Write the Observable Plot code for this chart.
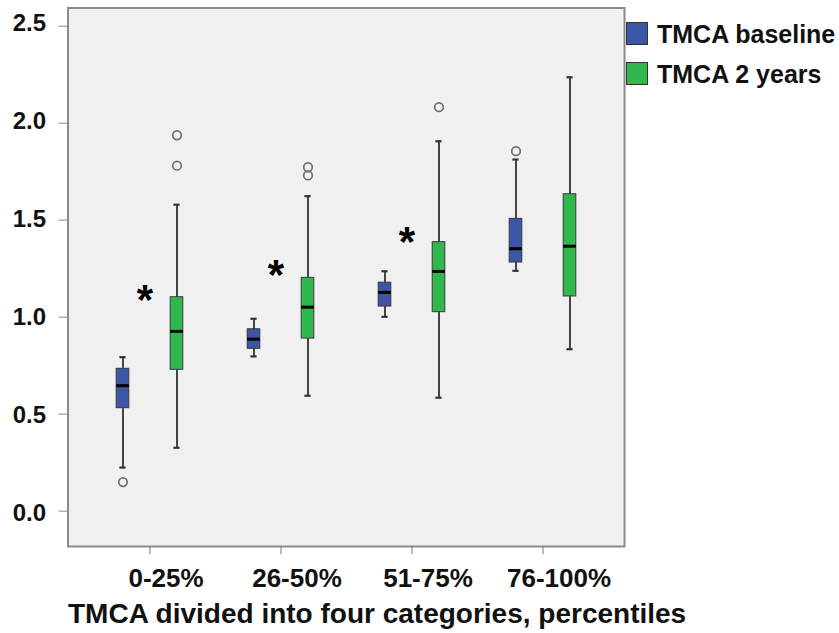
<!DOCTYPE html>
<html>
<head>
<meta charset="utf-8">
<script src="https://cdn.jsdelivr.net/npm/d3@7"></script>
<script src="https://cdn.jsdelivr.net/npm/@observablehq/plot@0.6"></script>
<style>
  html, body { margin: 0; padding: 0; background: #fff; }
  body { width: 839px; height: 633px; position: relative; overflow: hidden;
         font-family: "Liberation Sans", Arial, sans-serif; color: #111; }
  #chart svg { display: block; }
  #chart svg text { font-weight: bold; }
  .legend { position: absolute; left: 626px; top: 22px; }
  .legend .row { position: relative; height: 40px; }
  .legend .sw { position: absolute; left: 0; top: 0; width: 20px; height: 21px; border: 1px solid #333; }
  .legend .lab { position: absolute; left: 31px; top: -1px; font-size: 25px; font-weight: bold; line-height: 26px; white-space: nowrap; }
  .title { position: absolute; left: 68px; top: 601px; font-size: 28px; font-weight: bold; line-height: 26px; white-space: nowrap; }
</style>
</head>
<body>
<div id="chart"></div>
<div class="legend" id="legend"></div>
<div class="title" id="title"></div>
<script>
// ---- data ----
const categories = ["0-25%", "26-50%", "51-75%", "76-100%"];
const seriesNames = ["TMCA baseline", "TMCA 2 years"];
const seriesColors = ["#3c55a6", "#2fb84b"];

const baseLow    = [0.266, 0.839, 1.043, 1.280];
const baseQ1     = [0.572, 0.878, 1.096, 1.323];
const baseMedian = [0.688, 0.928, 1.169, 1.394];
const baseQ3     = [0.775, 0.979, 1.219, 1.548];
const baseHigh   = [0.835, 1.033, 1.278, 1.854];

const yr2Low     = [0.368, 0.636, 0.626, 0.876];
const yr2Q1      = [0.770, 0.931, 1.067, 1.148];
const yr2Median  = [0.968, 1.093, 1.277, 1.407];
const yr2Q3      = [1.144, 1.244, 1.428, 1.675];
const yr2High    = [1.621, 1.665, 1.948, 2.278];

const baseOutlierCats   = ["0-25%", "76-100%"];
const baseOutlierValues = [0.191, 1.897];
const yr2OutlierCats    = ["0-25%", "0-25%", "26-50%", "26-50%", "51-75%"];
const yr2OutlierValues  = [1.979, 1.822, 1.814, 1.772, 2.124];

const starCats   = ["0-25%", "26-50%", "51-75%"];
const starValues = [1.16, 1.29, 1.46];

const yTicks = [0, 0.5, 1.0, 1.5, 2.0, 2.5];
const xTitle = "TMCA divided into four categories, percentiles";

// ---- tables ----
const baseRows = categories.map((c, i) => ({cat: c, low: baseLow[i], q1: baseQ1[i], median: baseMedian[i], q3: baseQ3[i], high: baseHigh[i]}));
const yr2Rows  = categories.map((c, i) => ({cat: c, low: yr2Low[i], q1: yr2Q1[i], median: yr2Median[i], q3: yr2Q3[i], high: yr2High[i]}));
const baseOut = baseOutlierCats.map((c, i) => ({cat: c, value: baseOutlierValues[i]}));
const yr2Out  = yr2OutlierCats.map((c, i) => ({cat: c, value: yr2OutlierValues[i]}));
const stars   = starCats.map((c, i) => ({cat: c, value: starValues[i]}));

// ---- styling ----
const boxInset = 59.2, capInset = 62.4, offset = 27;

function boxMarks(rows, outs, color, dx) {
  return [
    Plot.ruleX(rows, {x: "cat", y1: "low", y2: "high", dx, stroke: "#454545", strokeWidth: 2}),
    Plot.tickY(rows, {x: "cat", y: "low", dx, stroke: "#333", strokeWidth: 2.2, insetLeft: capInset, insetRight: capInset}),
    Plot.tickY(rows, {x: "cat", y: "high", dx, stroke: "#333", strokeWidth: 2.2, insetLeft: capInset, insetRight: capInset}),
    Plot.barY(rows, {x: "cat", y1: "q1", y2: "q3", dx, fill: color, stroke: "#3a3a3a", strokeWidth: 1, insetLeft: boxInset, insetRight: boxInset}),
    Plot.tickY(rows, {x: "cat", y: "median", dx, stroke: "#000", strokeWidth: 3, insetLeft: boxInset, insetRight: boxInset}),
    Plot.dot(outs, {x: "cat", y: "value", dx, r: 4.3, stroke: "#707070", strokeWidth: 1.7, fill: "none"})
  ];
}

const chart = Plot.plot({
  width: 839,
  height: 600,
  marginLeft: 67.5,
  marginRight: 215,
  marginTop: 7.5,
  marginBottom: 54,
  style: {fontFamily: "'Liberation Sans', Arial, sans-serif", color: "#111", background: "transparent"},
  x: {domain: categories, paddingInner: 0, paddingOuter: 0.111, label: null},
  y: {domain: [-0.141, 2.635], label: null},
  marks: [
    Plot.frame({fill: "#f0f0f0", stroke: null}),
    ...boxMarks(baseRows, baseOut, seriesColors[0], -offset),
    ...boxMarks(yr2Rows, yr2Out, seriesColors[1], offset),
    Plot.text(stars, {x: "cat", y: "value", text: () => "*", dx: -5, dy: 6.5, fontSize: 42, fontWeight: "bold", fill: "#000"}),
    Plot.frame({stroke: "#8a8a8a", strokeWidth: 2}),
    Plot.axisY({ticks: yTicks, tickFormat: d3.format(".1f"), tickSize: 9, tickPadding: 13, dy: -8,
                fontSize: 24, fontWeight: "bold", stroke: "#8a8a8a", fill: "#111", label: null}),
    Plot.axisX({tickSize: 8, tickPadding: 14, fontSize: 26, fontWeight: "bold", stroke: "#777", fill: "#111", label: null}),
  ]
});
document.getElementById("chart").appendChild(chart);

// shift x-axis labels (not ticks) to the right as in the reference
chart.querySelectorAll('g[aria-label="x-axis tick label"] text').forEach(t => {
  t.setAttribute("dx", "16");
});
// the reference's y labels sit a little higher above the upper ticks than the lower ones
chart.querySelectorAll('g[aria-label="y-axis tick label"] text').forEach((t, i) => {
  const v = yTicks[i];
  if (v !== undefined) t.setAttribute("dy", String(2.5 - 2.1 * v));
});

// legend
const lg = document.getElementById("legend");
seriesNames.forEach((n, i) => {
  const row = document.createElement("div");
  row.className = "row";
  row.innerHTML = `<div class="sw" style="background:${seriesColors[i]}"></div><div class="lab">${n}</div>`;
  lg.appendChild(row);
});
document.getElementById("title").textContent = xTitle;
</script>
</body>
</html>
